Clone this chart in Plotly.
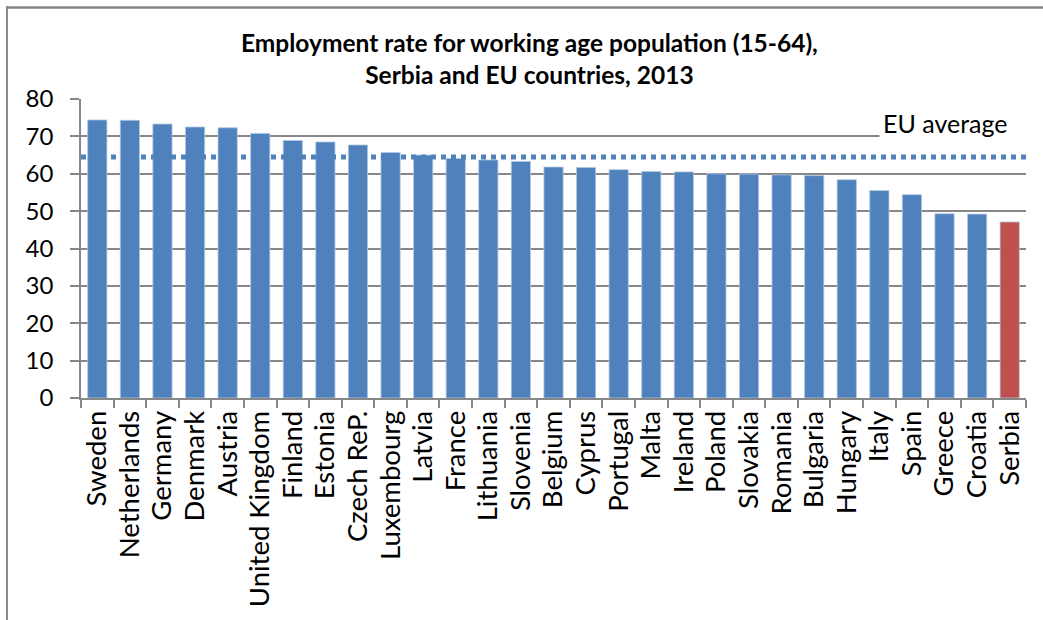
import plotly.graph_objects as go

countries = [
    "Sweden", "Netherlands", "Germany", "Denmark", "Austria", "United Kingdom",
    "Finland", "Estonia", "Czech ReP.", "Luxembourg", "Latvia", "France",
    "Lithuania", "Slovenia", "Belgium", "Cyprus", "Portugal", "Malta", "Ireland",
    "Poland", "Slovakia", "Romania", "Bulgaria", "Hungary", "Italy", "Spain",
    "Greece", "Croatia", "Serbia",
]
employment_rate = [
    74.4, 74.3, 73.3, 72.5, 72.3, 70.8,
    68.9, 68.5, 67.7, 65.7, 65.0, 64.1,
    63.7, 63.3, 61.8, 61.7, 61.1, 60.6, 60.5,
    60.0, 59.9, 59.7, 59.5, 58.4, 55.5, 54.4,
    49.3, 49.2, 47.1,
]
eu_average = 64.5
y_ticks = [0, 10, 20, 30, 40, 50, 60, 70, 80]

BLUE = "#4F81BD"
RED = "#C0504D"
GRID = "#878787"
FONT = "Lato, 'Open Sans', sans-serif"

bar_colors = [RED if c == "Serbia" else BLUE for c in countries]

fig = go.Figure()
fig.add_trace(go.Bar(
    x=countries,
    y=employment_rate,
    marker=dict(color=bar_colors, line=dict(color="#B4C8E2", width=0.8)),
    hoverinfo="x+y",
))

# EU average as a dotted horizontal line across the plot
fig.add_shape(
    type="line", xref="paper", yref="y",
    x0=0, x1=1, y0=eu_average, y1=eu_average,
    line=dict(color=BLUE, width=5, dash="dot"),
    layer="above",
)

# chart-area frame: left edge and top edge drawn as thin filled strips
fig.add_shape(
    type="rect", xref="paper", yref="paper",
    x0=-0.0794, x1=-0.0773, y0=-0.75, y1=1.310,
    fillcolor=GRID, line=dict(width=0), layer="above",
)
fig.add_shape(
    type="rect", xref="paper", yref="paper",
    x0=-0.0794, x1=1.02, y0=1.302, y1=1.310,
    fillcolor=GRID, line=dict(width=0), layer="above",
)

# label box for the EU average, white background hides the grid behind it
fig.add_annotation(
    text="EU average", xref="paper", yref="y",
    x=0.844, y=70, xanchor="left", yanchor="bottom",
    width=150, align="left",
    showarrow=False, bgcolor="white", borderpad=3, yshift=-6,
    font=dict(family=FONT, size=25, color="black"),
)

# two-line chart title
fig.add_annotation(
    text="<b>Employment rate for working age population (15-64),<br>Serbia and EU countries, 2013</b>",
    xref="paper", yref="paper", x=0.475, y=1.134,
    xanchor="center", yanchor="middle", align="center",
    showarrow=False,
    font=dict(family=FONT, size=24.5, color="black"),
)

fig.update_layout(
    width=1043, height=620,
    margin=dict(l=81, r=17, t=99, b=222),
    paper_bgcolor="white", plot_bgcolor="white",
    showlegend=False,
    bargap=0.41,
    xaxis=dict(
        type="category",
        tickson="boundaries",
        tickmode="array", tickvals=countries, ticktext=countries,
        ticks="outside", ticklen=8, tickcolor=GRID, tickwidth=1.5,
        showline=True, linecolor=GRID, linewidth=1.5,
        showgrid=False,
        tickangle=-90,
        tickfont=dict(family=FONT, size=27.5, color="black"),
    ),
    yaxis=dict(
        range=[0, 80],
        tickvals=y_ticks,
        ticks="outside", ticklen=9, tickcolor=GRID, tickwidth=1.5,
        showline=True, linecolor=GRID, linewidth=1.5,
        showgrid=True, gridcolor=GRID, gridwidth=1.5,
        zeroline=False,
        ticklabelstandoff=12,
        tickfont=dict(family=FONT, size=24, color="black"),
    ),
)

fig.write_html("out.html", config={"displayModeBar": False})
